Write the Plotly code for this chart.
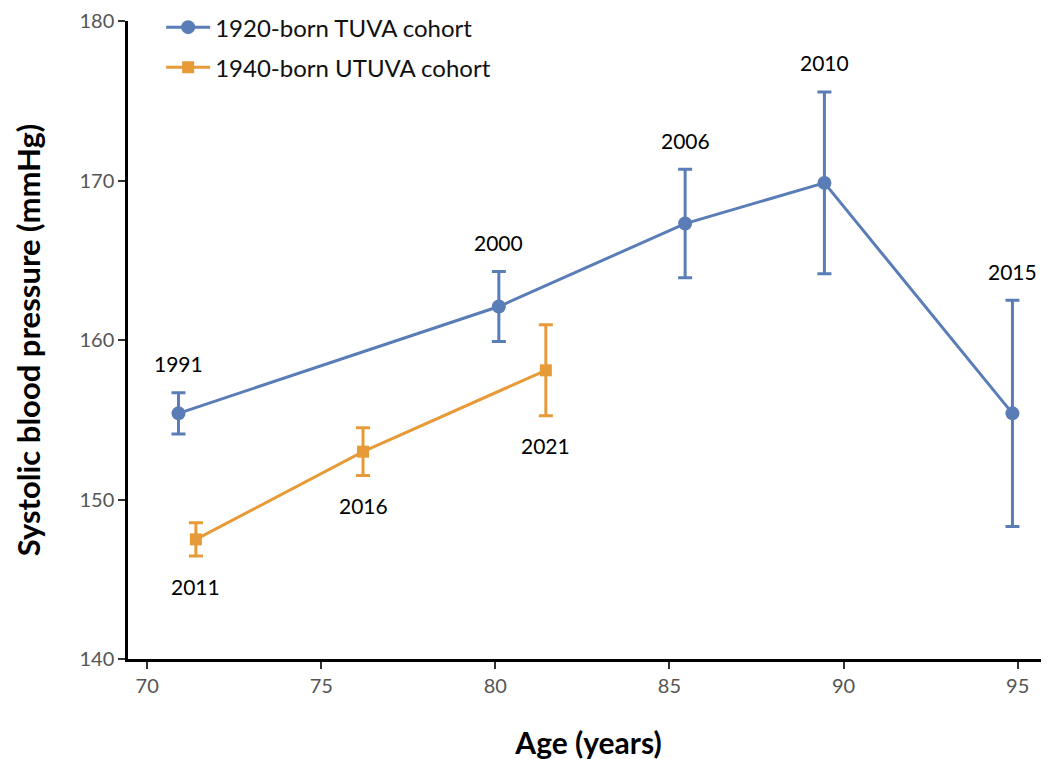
import plotly.graph_objects as go

# Data
tuva_age = [70.9, 80.1, 85.45, 89.45, 94.85]
tuva_sbp = [155.4, 162.1, 167.3, 169.85, 155.4]
tuva_err = [1.3, 2.2, 3.4, 5.7, 7.1]
tuva_year = ["1991", "2000", "2006", "2010", "2015"]

utuva_age = [71.4, 76.2, 81.45]
utuva_sbp = [147.5, 153.0, 158.1]
utuva_err = [1.05, 1.5, 2.85]
utuva_year = ["2011", "2016", "2021"]

x_ticks = [70, 75, 80, 85, 90, 95]
y_ticks = [140, 150, 160, 170, 180]

BLUE = "#5a7db7"
ORANGE = "#e69b38"
FONT = "Lato"

fig = go.Figure()
fig.add_trace(go.Scatter(
    x=tuva_age, y=tuva_sbp, mode="lines+markers", name="1920-born TUVA cohort",
    legendgroup="a",
    line=dict(color=BLUE, width=3),
    marker=dict(color=BLUE, size=14, symbol="circle"),
    error_y=dict(type="data", array=tuva_err, color=BLUE, thickness=3, width=7),
))
fig.add_trace(go.Scatter(
    x=utuva_age, y=utuva_sbp, mode="lines+markers", name="1940-born UTUVA cohort",
    legendgroup="b",
    line=dict(color=ORANGE, width=3),
    marker=dict(color=ORANGE, size=12, symbol="square"),
    error_y=dict(type="data", array=utuva_err, color=ORANGE, thickness=3, width=7),
))

for x, y, e, t in zip(tuva_age, tuva_sbp, tuva_err, tuva_year):
    fig.add_annotation(x=x, y=y + e, text=t, showarrow=False, yshift=29,
                       font=dict(family=FONT, size=21, color="black"))
for x, y, e, t in zip(utuva_age, utuva_sbp, utuva_err, utuva_year):
    fig.add_annotation(x=x, y=y - e, text=t, showarrow=False, yshift=-30,
                       font=dict(family=FONT, size=21, color="black"))

fig.update_layout(
    width=1049, height=759,
    margin=dict(l=120, r=8, t=13, b=108, autoexpand=False),
    paper_bgcolor="white", plot_bgcolor="white",
    font=dict(family=FONT, color="#444444"),
    legend=dict(x=0.036, y=1.025, xanchor="left", yanchor="top",
                font=dict(family=FONT, size=24, color="#111111"),
                bgcolor="rgba(0,0,0,0)", itemwidth=44, tracegroupgap=6),
    xaxis=dict(range=[69.45, 95.9], tickvals=x_ticks, showgrid=False, zeroline=False,
               showline=True, linecolor="black", linewidth=2.5,
               ticks="outside", ticklen=7, tickwidth=2, tickcolor="#333333",
               tickfont=dict(family=FONT, size=20, color="#555555"),
               title=dict(text="<b>Age (years)</b>", standoff=38,
                          font=dict(family=FONT, size=30, color="black"))),
    yaxis=dict(range=[140, 180], tickvals=y_ticks, showgrid=False, zeroline=False,
               showline=True, linecolor="black", linewidth=2.5,
               ticks="outside", ticklen=7, tickwidth=2, tickcolor="#333333",
               tickfont=dict(family=FONT, size=20, color="#555555"),
               title=dict(text="<b>Systolic blood pressure (mmHg)</b>", standoff=30,
                          font=dict(family=FONT, size=31, color="black"))),
)

fig.write_html("out.html")
